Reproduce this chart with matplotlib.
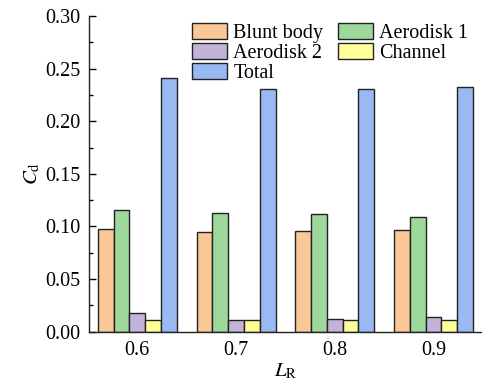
import numpy as np
import matplotlib
matplotlib.use("Agg")
import matplotlib.pyplot as plt
from matplotlib.ticker import MultipleLocator, FormatStrFormatter

# drag coefficient per component, grouped by L_R
lr_labels = ["0.6", "0.7", "0.8", "0.9"]
blunt_body = [0.0975, 0.0950, 0.0952, 0.0968]
aerodisk_1 = [0.1158, 0.1130, 0.1114, 0.1093]
aerodisk_2 = [0.0175, 0.0114, 0.0118, 0.0143]
channel = [0.0114, 0.0114, 0.0114, 0.0114]
total = [0.2415, 0.2309, 0.2302, 0.2321]

series = [
    ("Blunt body", blunt_body, "#FAC896"),
    ("Aerodisk 1", aerodisk_1, "#9ED89A"),
    ("Aerodisk 2", aerodisk_2, "#C4B3D8"),
    ("Channel", channel, "#FFFF9A"),
    ("Total", total, "#98B9F1"),
]

plt.rcParams["font.family"] = ["Liberation Serif", "DejaVu Serif"]
plt.rcParams["mathtext.fontset"] = "stix"

fig = plt.figure(figsize=(4.82, 3.86), dpi=100)
ax = fig.add_axes([0.1846, 0.1407, 0.815, 0.818])

x = np.arange(len(lr_labels))
width = 0.16
bars = {}
for i, (name, vals, color) in enumerate(series):
    bars[name] = ax.bar(x + (i - 2) * width, vals, width, color=color,
                        edgecolor="#222222", linewidth=1.0, label=name)

ax.set_xlim(-0.49, 3.49)
ax.set_ylim(0, 0.30)
ax.set_xticks(x)
ax.set_xticklabels(lr_labels)
ax.yaxis.set_major_locator(MultipleLocator(0.05))
ax.yaxis.set_minor_locator(MultipleLocator(0.025))
ax.yaxis.set_major_formatter(FormatStrFormatter("%.2f"))

ax.tick_params(axis="y", which="major", direction="in", length=5, width=1,
               labelsize=14.5, pad=6)
ax.tick_params(axis="y", which="minor", direction="in", length=3, width=1)
ax.tick_params(axis="x", length=0, labelsize=14.5, pad=7)

ax.spines["top"].set_visible(False)
ax.spines["right"].set_visible(False)
for s in ("left", "bottom"):
    ax.spines[s].set_linewidth(1.0)
    ax.spines[s].set_color("#222222")

ax.set_ylabel(r"$C_{\mathrm{d}}$", fontsize=15, labelpad=2)
ax.set_xlabel(r"$L_{\mathrm{R}}$", fontsize=15, labelpad=1)

# legend filled row by row: two columns, column-major order for matplotlib
order = ["Blunt body", "Aerodisk 2", "Total", "Aerodisk 1", "Channel"]
ax.legend([bars[n] for n in order], order, ncol=2, loc="upper left",
          bbox_to_anchor=(0.232, 1.015), frameon=False, fontsize=14.5,
          handlelength=1.75, handleheight=0.85, handletextpad=0.3,
          columnspacing=0.7, labelspacing=0.0, borderaxespad=0.2)

fig.savefig("out.png", dpi=100)
